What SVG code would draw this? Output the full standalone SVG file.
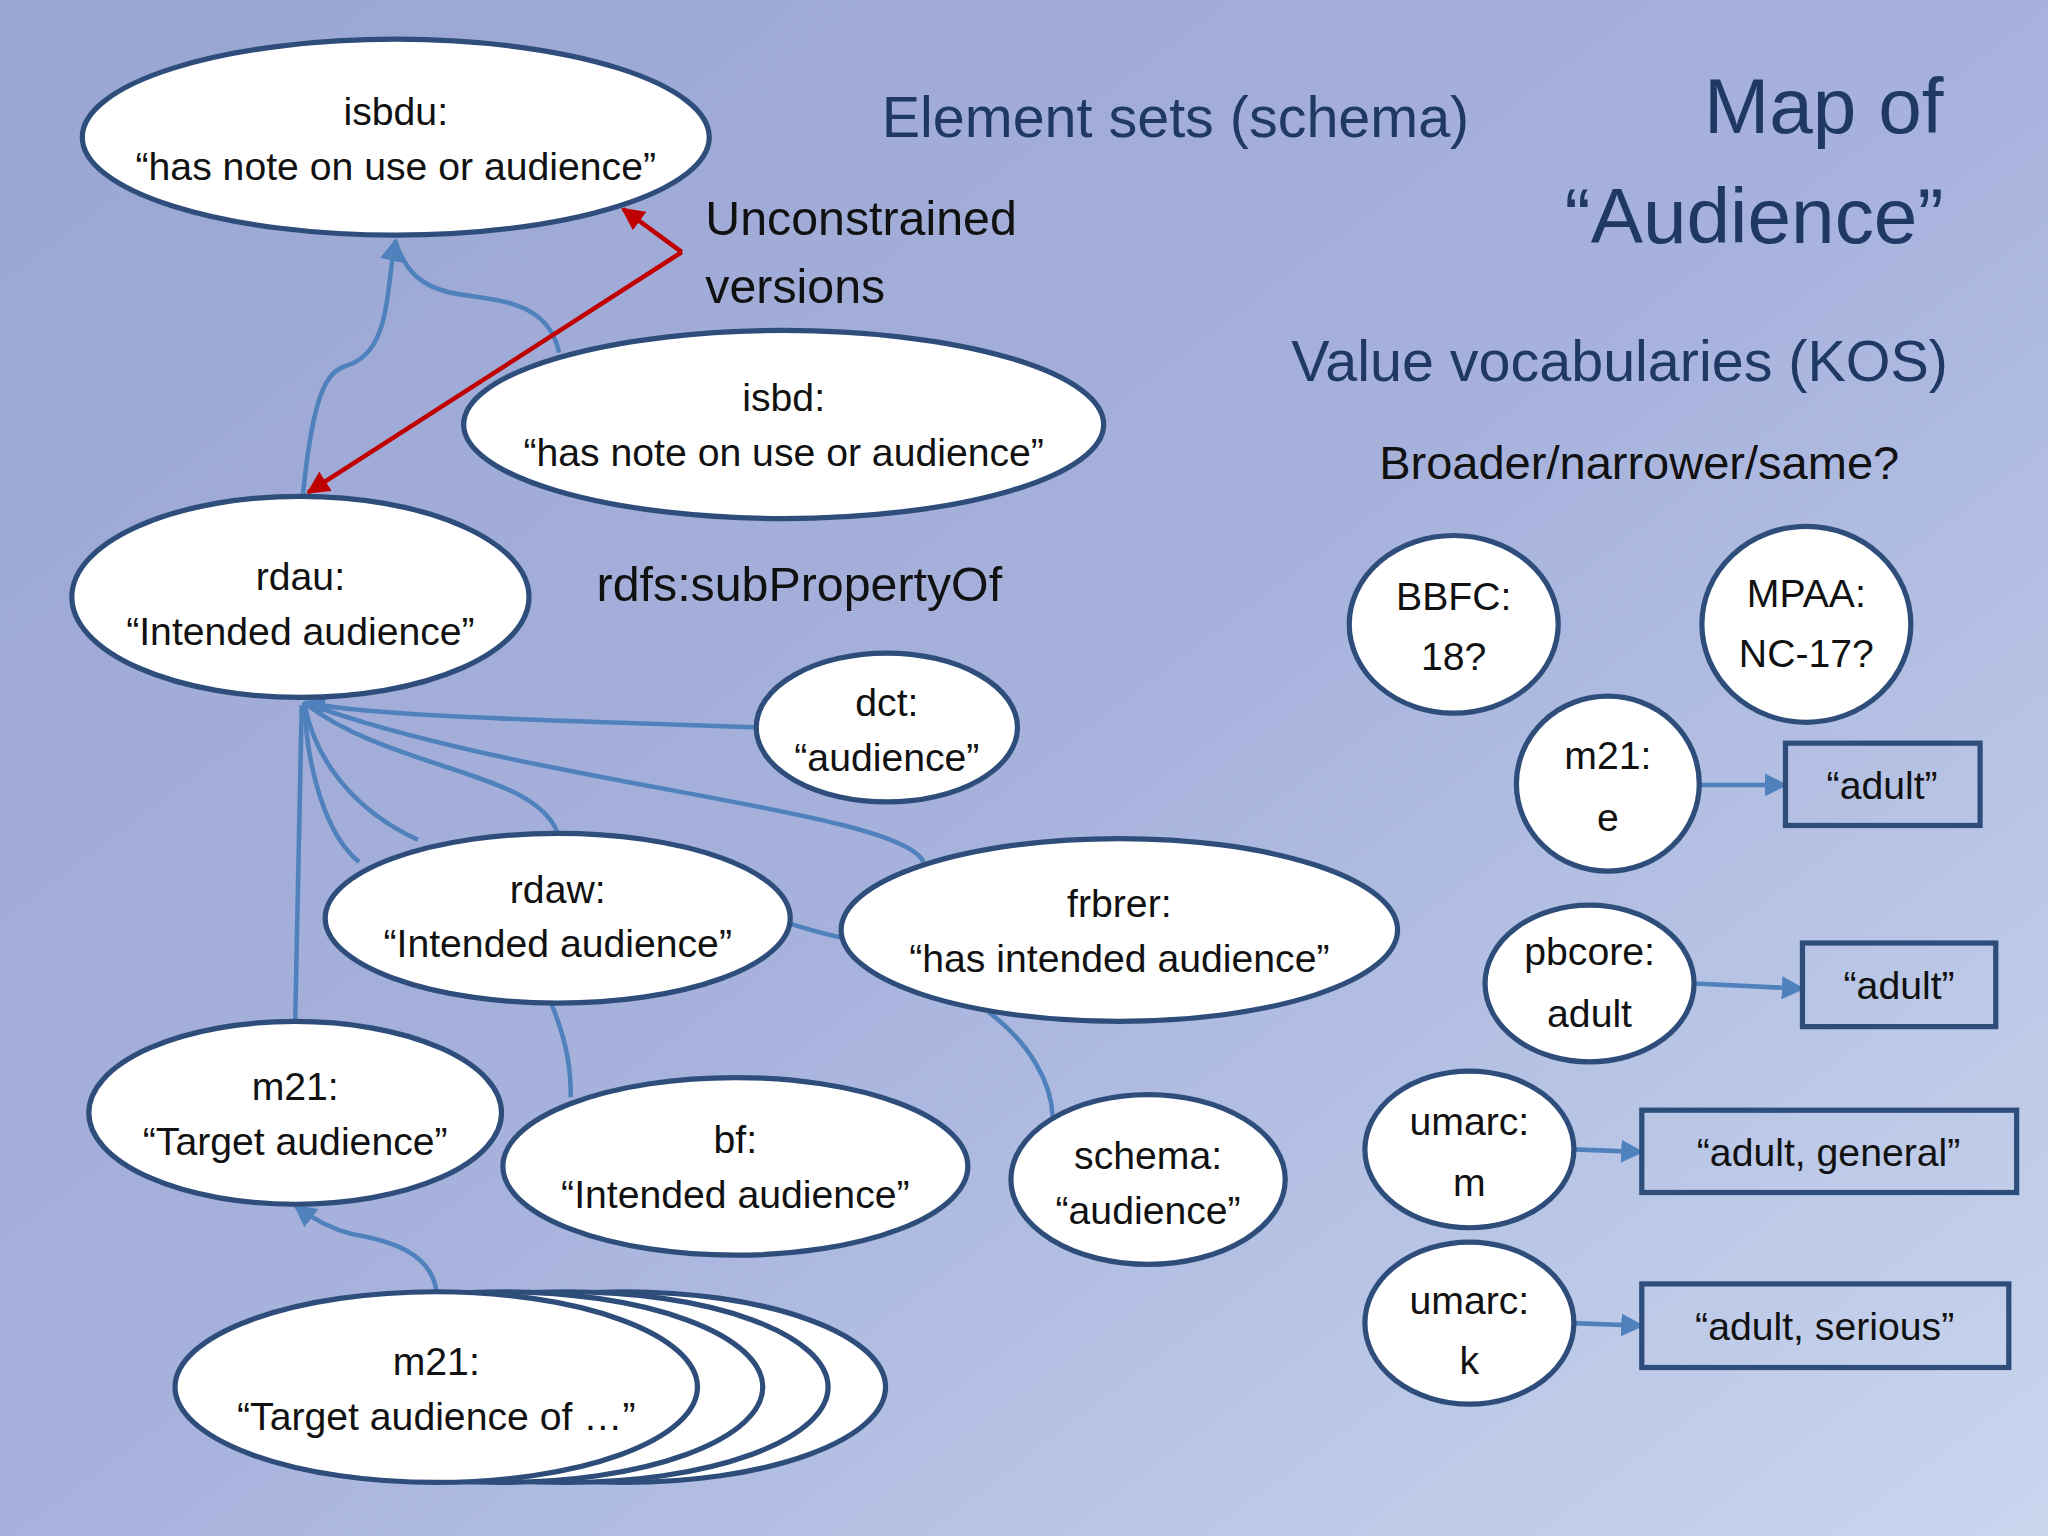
<svg xmlns="http://www.w3.org/2000/svg" width="2048" height="1536" viewBox="0 0 2048 1536">
<defs>
<linearGradient id="bg" x1="0" y1="0" x2="1" y2="1">
<stop offset="0" stop-color="#9aa6d2"/><stop offset="0.5" stop-color="#a6b2dc"/><stop offset="1" stop-color="#c9d6ee"/>
</linearGradient>
<marker id="ab" viewBox="0 0 10 10" refX="9" refY="5" markerWidth="5" markerHeight="5" orient="auto"><path d="M0,0L10,5L0,10z" fill="#4f81bd"/></marker>
<marker id="ar" viewBox="0 0 10 10" refX="9" refY="5" markerWidth="5" markerHeight="5" orient="auto"><path d="M0,0L10,5L0,10z" fill="#c00000"/></marker>
<style>
.n{fill:#fff;stroke:#2e4d7b;stroke-width:4}
.c{fill:none;stroke:#4f81bd;stroke-width:3.5}
.t{font-family:"Liberation Sans",Arial,sans-serif;font-size:30px;fill:#111;text-anchor:middle}
.h{font-family:"Liberation Sans",Arial,sans-serif;fill:#1f3864;text-anchor:middle}
.b{fill:none;stroke:#2e4d7b;stroke-width:4}
</style>
</defs>
<rect width="2048" height="1536" fill="url(#bg)"/>
<g transform="scale(1.30612)">
<g id="connectors">
<path class="c" d="M232,378 C240,300 250,285 265,280 C300,270 295,220 303,184" marker-end="url(#ab)"/>
<path class="c" d="M428,270 C420,230 380,230 350,225 C320,220 310,205 303,186"/>
<path d="M522,193 L477,160" stroke="#c00000" stroke-width="3.5" fill="none" marker-end="url(#ar)"/>
<path d="M522,193 L236,377" stroke="#c00000" stroke-width="3.5" fill="none" marker-end="url(#ar)"/>
<path class="c" d="M580,557 C450,552 300,550 233,538" marker-end="url(#ab)"/>
<path class="c" d="M427,638 C410,590 300,590 233,538"/>
<path class="c" d="M320,643 C270,620 240,580 233,538"/>
<path class="c" d="M275,660 C250,640 235,590 233,538"/>
<path class="c" d="M707,660 C690,620 400,600 233,538"/>
<path class="c" d="M226,782 L231,540"/>
<path class="c" d="M604,707 C620,712 630,715 645,718"/>
<path class="c" d="M422,768 C435,800 437,820 437,840"/>
<path class="c" d="M757,775 C790,800 805,830 806,855"/>
<path class="c" d="M334,988 C330,960 300,950 270,945 C250,940 235,930 226,923" marker-end="url(#ab)"/>
<path class="c" d="M1301,601 L1367,601" marker-end="url(#ab)"/>
<path class="c" d="M1297,753 L1380,757" marker-end="url(#ab)"/>
<path class="c" d="M1205,880 L1257,882" marker-end="url(#ab)"/>
<path class="c" d="M1205,1013 L1257,1015" marker-end="url(#ab)"/>
</g>
<g id="isbdu"><ellipse class="n" cx="303" cy="105" rx="240" ry="75"/><text class="t" x="303" y="96">isbdu:</text><text class="t" x="303" y="138">“has note on use or audience”</text></g>
<g id="isbd"><ellipse class="n" cx="600" cy="325" rx="245" ry="72"/><text class="t" x="600" y="315">isbd:</text><text class="t" x="600" y="357">“has note on use or audience”</text></g>
<g id="rdau"><ellipse class="n" cx="230" cy="457" rx="175" ry="77"/><text class="t" x="230" y="452">rdau:</text><text class="t" x="230" y="494">“Intended audience”</text></g>
<g id="dct"><ellipse class="n" cx="679" cy="557" rx="100" ry="57"/><text class="t" x="679" y="548">dct:</text><text class="t" x="679" y="590">“audience”</text></g>
<g id="rdaw"><ellipse class="n" cx="427" cy="703" rx="178" ry="65"/><text class="t" x="427" y="691">rdaw:</text><text class="t" x="427" y="733">“Intended audience”</text></g>
<g id="frbrer"><ellipse class="n" cx="857" cy="712" rx="213" ry="70"/><text class="t" x="857" y="702">frbrer:</text><text class="t" x="857" y="744">“has intended audience”</text></g>
<g id="m21target"><ellipse class="n" cx="226" cy="852" rx="158" ry="70"/><text class="t" x="226" y="842">m21:</text><text class="t" x="226" y="884">“Target audience”</text></g>
<g id="bf"><ellipse class="n" cx="563" cy="893" rx="178" ry="68"/><text class="t" x="563" y="883">bf:</text><text class="t" x="563" y="925">“Intended audience”</text></g>
<g id="schema"><ellipse class="n" cx="879" cy="903" rx="105" ry="65"/><text class="t" x="879" y="895">schema:</text><text class="t" x="879" y="937">“audience”</text></g>
<g id="m21stack">
<ellipse class="n" cx="478" cy="1062" rx="200" ry="73"/>
<ellipse class="n" cx="434" cy="1062" rx="200" ry="73"/>
<ellipse class="n" cx="384" cy="1062" rx="200" ry="73"/>
<ellipse class="n" cx="334" cy="1062" rx="200" ry="73"/>
<text class="t" x="334" y="1053">m21:</text><text class="t" x="334" y="1095">“Target audience of …”</text></g>
<g id="bbfc"><ellipse class="n" cx="1113" cy="478" rx="80" ry="68"/><text class="t" x="1113" y="467" font-size="32">BBFC:</text><text class="t" x="1113" y="513">18?</text></g>
<g id="mpaa"><ellipse class="n" cx="1383" cy="478" rx="80" ry="75"/><text class="t" x="1383" y="465">MPAA:</text><text class="t" x="1383" y="511">NC-17?</text></g>
<g id="m21e"><ellipse class="n" cx="1231" cy="600" rx="70" ry="67"/><text class="t" x="1231" y="589">m21:</text><text class="t" x="1231" y="636">e</text></g>
<g id="pbcore"><ellipse class="n" cx="1217" cy="753" rx="80" ry="60"/><text class="t" x="1217" y="739">pbcore:</text><text class="t" x="1217" y="786">adult</text></g>
<g id="umarcm"><ellipse class="n" cx="1125" cy="880" rx="80" ry="60"/><text class="t" x="1125" y="869">umarc:</text><text class="t" x="1125" y="916">m</text></g>
<g id="umarck"><ellipse class="n" cx="1125" cy="1013" rx="80" ry="62"/><text class="t" x="1125" y="1006">umarc:</text><text class="t" x="1125" y="1052">k</text></g>
<g id="adult1"><rect class="b" x="1367" y="569" width="149" height="63"/><text class="t" x="1441" y="612">“adult”</text></g>
<g id="adult2"><rect class="b" x="1380" y="722" width="148" height="64"/><text class="t" x="1454" y="765">“adult”</text></g>
<g id="adult3"><rect class="b" x="1257" y="850" width="287" height="63"/><text class="t" x="1400" y="893">“adult, general”</text></g>
<g id="adult4"><rect class="b" x="1257" y="983" width="281" height="64"/><text class="t" x="1397" y="1026">“adult, serious”</text></g>
<text class="h" x="900" y="105" font-size="44">Element sets (schema)</text>
<text class="h" x="1488" y="102" font-size="60" text-anchor="end" style="text-anchor:end">Map of</text>
<text class="h" x="1488" y="186" font-size="60" style="text-anchor:end">“Audience”</text>
<text class="h" x="1240" y="292" font-size="44">Value vocabularies (KOS)</text>
<text class="t" x="1255" y="367" font-size="36" style="font-size:36px">Broader/narrower/same?</text>
<text class="t" x="540" y="180" style="font-size:37px;text-anchor:start">Unconstrained</text>
<text class="t" x="540" y="232" style="font-size:37px;text-anchor:start">versions</text>
<text class="t" x="612" y="460" style="font-size:37px">rdfs:subPropertyOf</text>
</g>
</svg>
